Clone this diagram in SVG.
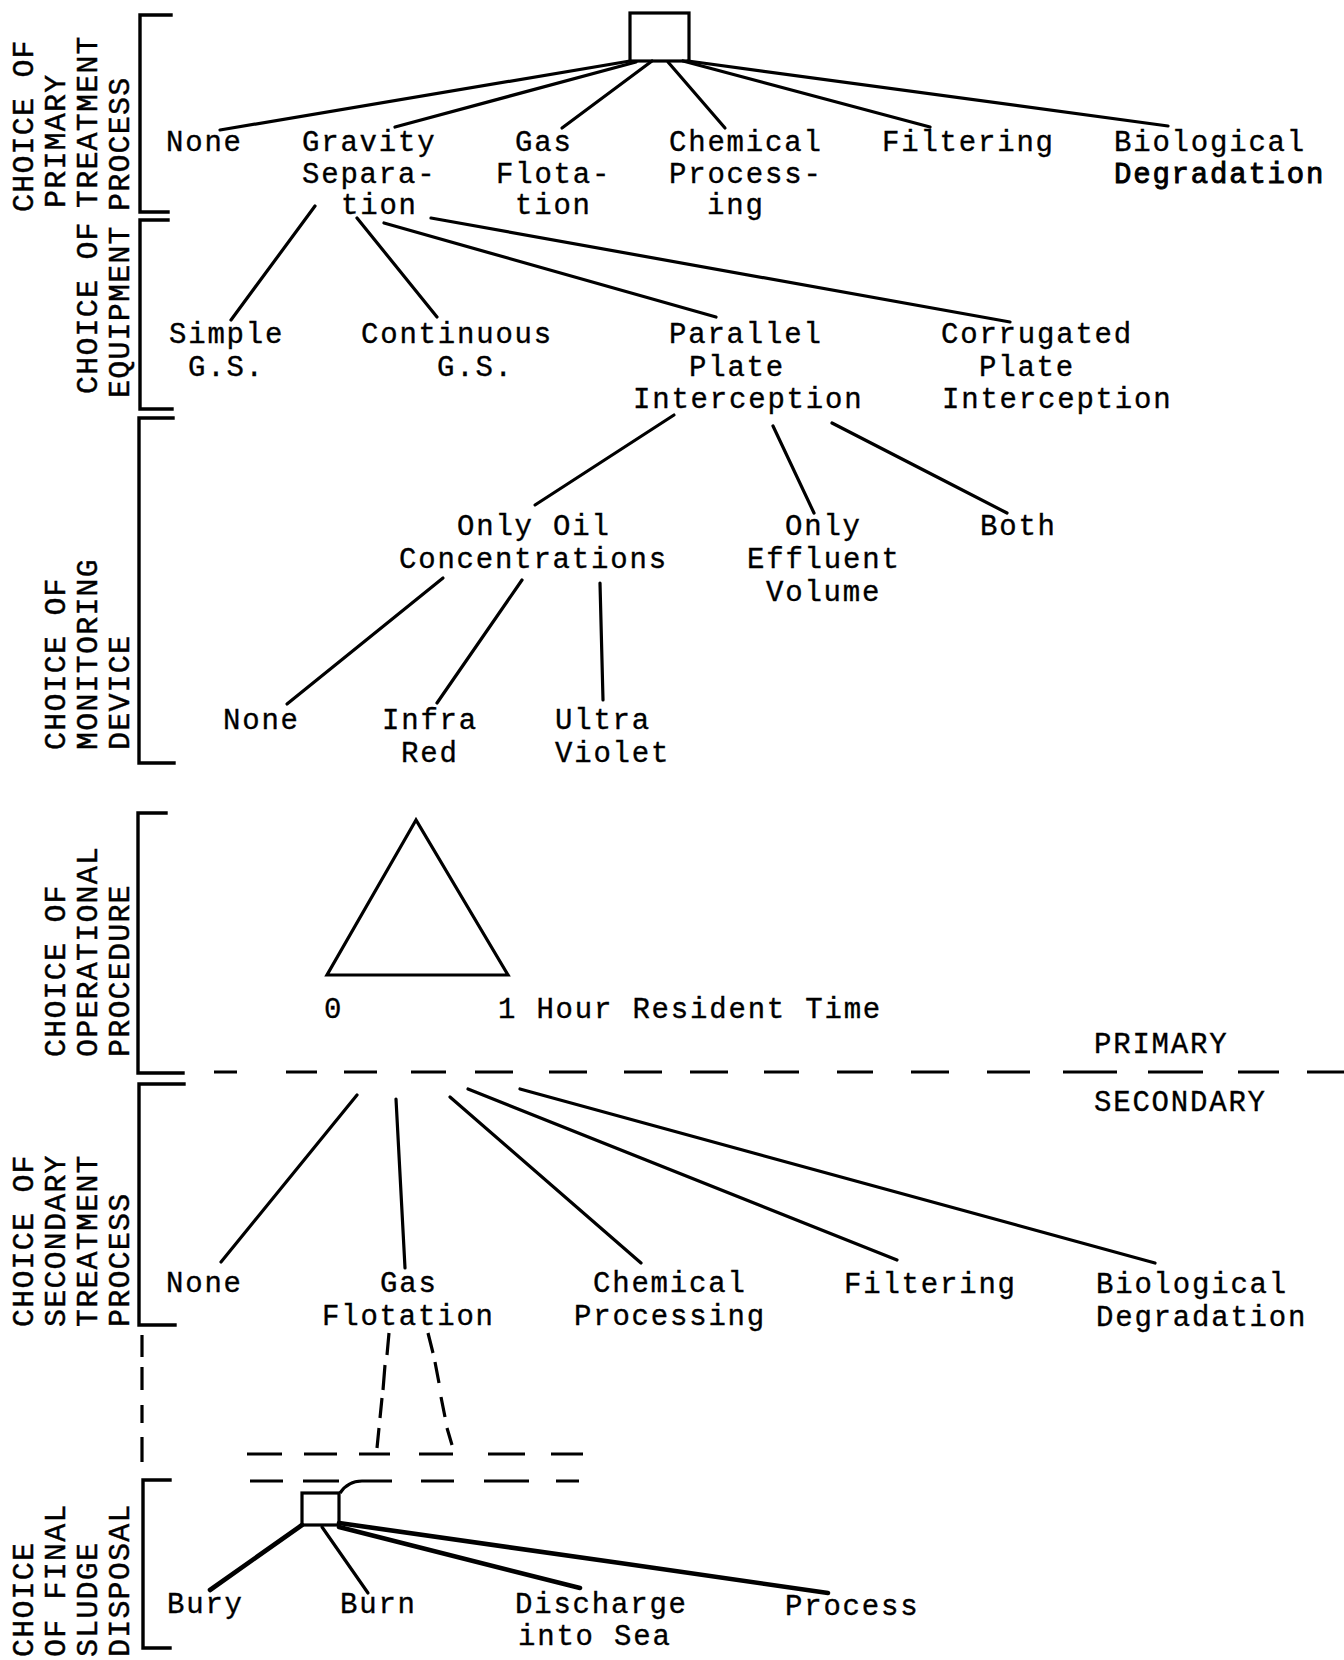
<svg xmlns="http://www.w3.org/2000/svg" width="1344" height="1660" viewBox="0 0 1344 1660">
  <style>
    .bg { fill: #ffffff; }
    .t { font-family: "Liberation Mono", "DejaVu Sans Mono", monospace; font-size: 29px; letter-spacing: 1.8px; fill: #000; stroke: #000; stroke-width: 0.35px; }
    .heavy { stroke-width: 0.9px; }
    .side { font-family: "Liberation Mono", "DejaVu Sans Mono", monospace; font-size: 30px; letter-spacing: 1.2px; fill: #000; stroke: #000; stroke-width: 0.45px; }
    .ln { stroke: #000; stroke-width: 3.2; fill: none; stroke-linecap: round; stroke-linejoin: round; }
    .thick { stroke-width: 4.6; }
    .box { stroke: #000; stroke-width: 3.2; fill: none; }
    .br { stroke: #000; stroke-width: 3.4; fill: none; stroke-linecap: square; }
    .dash { stroke: #000; stroke-width: 3.2; fill: none; stroke-linecap: butt; }
  </style>

  <rect class="bg" x="0" y="0" width="1344" height="1660"/>

  <!-- stage brackets with their rotated titles -->
  <g id="stage-primary">
    <path class="br" d="M171 15 H140 V212 H168"/>
    <text class="side" transform="translate(33,212) rotate(-90)">CHOICE OF</text>
    <text class="side" transform="translate(65,208) rotate(-90)">PRIMARY</text>
    <text class="side" transform="translate(97,208) rotate(-90)">TREATMENT</text>
    <text class="side" transform="translate(129,211) rotate(-90)">PROCESS</text>
  </g>
  <g id="stage-equipment">
    <path class="br" d="M168 220 H140 V409 H172"/>
    <text class="side" transform="translate(97,394) rotate(-90)">CHOICE OF</text>
    <text class="side" transform="translate(129,398) rotate(-90)">EQUIPMENT</text>
  </g>
  <g id="stage-monitoring">
    <path class="br" d="M173 418 H139 V763 H174"/>
    <text class="side" transform="translate(65,750) rotate(-90)">CHOICE OF</text>
    <text class="side" transform="translate(97,750) rotate(-90)">MONITORING</text>
    <text class="side" transform="translate(129,750) rotate(-90)">DEVICE</text>
  </g>
  <g id="stage-operational">
    <path class="br" d="M166 813 H138 V1073 H183"/>
    <text class="side" transform="translate(65,1057) rotate(-90)">CHOICE OF</text>
    <text class="side" transform="translate(97,1057) rotate(-90)">OPERATIONAL</text>
    <text class="side" transform="translate(129,1057) rotate(-90)">PROCEDURE</text>
  </g>
  <g id="stage-secondary">
    <path class="br" d="M184 1084 H139 V1325 H175"/>
    <text class="side" transform="translate(33,1327) rotate(-90)">CHOICE OF</text>
    <text class="side" transform="translate(65,1327) rotate(-90)">SECONDARY</text>
    <text class="side" transform="translate(97,1327) rotate(-90)">TREATMENT</text>
    <text class="side" transform="translate(129,1327) rotate(-90)">PROCESS</text>
  </g>
  <g id="stage-link">
    <path class="dash" d="M142 1335 V1357 M142 1367 V1390 M142 1405 V1423 M142 1437 V1462"/>
  </g>
  <g id="stage-disposal">
    <path class="br" d="M170 1480 H143 V1648 H170"/>
    <text class="side" transform="translate(33,1657) rotate(-90)">CHOICE</text>
    <text class="side" transform="translate(65,1657) rotate(-90)">OF FINAL</text>
    <text class="side" transform="translate(97,1657) rotate(-90)">SLUDGE</text>
    <text class="side" transform="translate(129,1657) rotate(-90)">DISPOSAL</text>
  </g>

  <!-- connectors -->
  <g id="connectors">
    <!-- primary treatment fan -->
    <path class="ln" d="M630 61 L220 130"/>
    <path class="ln" d="M636 62 L395 127"/>
    <path class="ln" d="M652 61 L562 128"/>
    <path class="ln" d="M668 62 L725 128"/>
    <path class="ln" d="M683 61 L930 127"/>
    <path class="ln" d="M688 61 L1168 126"/>
    <!-- equipment fan -->
    <path class="ln" d="M315 206 L231 320"/>
    <path class="ln" d="M357 218 L437 317"/>
    <path class="ln" d="M384 223 L716 317"/>
    <path class="ln" d="M431 218 L1010 322"/>
    <!-- monitoring fan -->
    <path class="ln" d="M674 415 L535 505"/>
    <path class="ln" d="M773 426 L814 513"/>
    <path class="ln" d="M832 423 L939 478 L1007 513"/>
    <!-- device fan -->
    <path class="ln" d="M443 578 L287 704"/>
    <path class="ln" d="M522 580 L437 703"/>
    <path class="ln" d="M600 583 L603 700"/>
    <!-- primary / secondary boundary -->
    <path class="dash" d="M214 1072 H237 M286 1072 H317 M344 1072 H377 M411 1072 H446 M475 1072 H513 M549 1072 H587 M624 1072 H662 M690 1072 H728 M764 1072 H799 M837 1072 H873 M911 1072 H949 M987 1072 H1030 M1063 1072 H1117 M1148 1072 H1203 M1238 1072 H1279 M1307 1072 H1344"/>
    <!-- secondary treatment fan -->
    <path class="ln" d="M357 1095 L221 1262"/>
    <path class="ln" d="M396 1099 L405 1268"/>
    <path class="ln" d="M450 1097 L641 1263"/>
    <path class="ln" d="M468 1089 L897 1260"/>
    <path class="ln" d="M520 1089 L1155 1263"/>
    <!-- dashed lead from gas flotation to sludge disposal -->
    <path class="dash" d="M389 1333 L387 1355 M385 1365 L383 1390 M382 1398 L380 1418 M379 1428 L377 1448"/>
    <path class="dash" d="M428 1333 L433 1353 M435 1362 L439 1383 M441 1397 L445 1417 M447 1428 L452 1445"/>
    <path class="dash" d="M247 1454 H282 M304 1454 H337 M359 1454 H390 M419 1454 H453 M488 1454 H525 M551 1454 H583"/>
    <path class="dash" d="M250 1481 H283 M303 1481 H339 M340 1493 Q348 1481 362 1481 H392 M421 1481 H454 M484 1481 H529 M556 1481 H579"/>
    <!-- sludge disposal fan -->
    <path class="ln thick" d="M302 1525 L210 1590"/>
    <path class="ln" d="M322 1527 L368 1593"/>
    <path class="ln thick" d="M339 1527 L580 1588"/>
    <path class="ln thick" d="M339 1523 L620 1563 L828 1593"/>
  </g>

  <!-- decision and chance nodes -->
  <g id="node-primary-decision">
    <rect class="box" x="630" y="13" width="59" height="48"/>
  </g>
  <g id="node-disposal-decision">
    <rect class="box" x="302" y="1493" width="37" height="32"/>
  </g>
  <g id="node-residence-time">
    <path class="box" d="M416 820 L327 975 L508 975 Z" stroke-width="3.6"/>
    <text class="t" x="324" y="1018">0</text>
    <text class="t" x="498" y="1018">1 Hour Resident Time</text>
  </g>

  <!-- primary treatment options -->
  <g id="opt-primary-none"><text class="t" x="166" y="151">None</text></g>
  <g id="opt-primary-gravity">
    <text class="t" x="302" y="151">Gravity</text>
    <text class="t" x="302" y="183">Separa-</text>
    <text class="t" x="341" y="214">tion</text>
  </g>
  <g id="opt-primary-gas">
    <text class="t" x="515" y="151">Gas</text>
    <text class="t" x="496" y="183">Flota-</text>
    <text class="t" x="515" y="214">tion</text>
  </g>
  <g id="opt-primary-chemical">
    <text class="t" x="669" y="151">Chemical</text>
    <text class="t" x="669" y="183">Process-</text>
    <text class="t" x="707" y="214">ing</text>
  </g>
  <g id="opt-primary-filtering"><text class="t" x="882" y="151">Filtering</text></g>
  <g id="opt-primary-biological">
    <text class="t" x="1114" y="151">Biological</text>
    <text class="t heavy" x="1114" y="183">Degradation</text>
  </g>

  <!-- equipment options -->
  <g id="opt-simple">
    <text class="t" x="169" y="343">Simple</text>
    <text class="t" x="188" y="376">G.S.</text>
  </g>
  <g id="opt-continuous">
    <text class="t" x="361" y="343">Continuous</text>
    <text class="t" x="437" y="376">G.S.</text>
  </g>
  <g id="opt-parallel">
    <text class="t" x="669" y="343">Parallel</text>
    <text class="t" x="689" y="376">Plate</text>
    <text class="t" x="633" y="408">Interception</text>
  </g>
  <g id="opt-corrugated">
    <text class="t" x="941" y="343">Corrugated</text>
    <text class="t" x="979" y="376">Plate</text>
    <text class="t" x="942" y="408">Interception</text>
  </g>

  <!-- monitoring options -->
  <g id="opt-oil">
    <text class="t" x="457" y="535">Only Oil</text>
    <text class="t" x="399" y="568">Concentrations</text>
  </g>
  <g id="opt-effluent">
    <text class="t" x="785" y="535">Only</text>
    <text class="t" x="747" y="568">Effluent</text>
    <text class="t" x="766" y="601">Volume</text>
  </g>
  <g id="opt-both"><text class="t" x="980" y="535">Both</text></g>

  <!-- device options -->
  <g id="opt-device-none"><text class="t" x="223" y="729">None</text></g>
  <g id="opt-infrared">
    <text class="t" x="382" y="729">Infra</text>
    <text class="t" x="401" y="762">Red</text>
  </g>
  <g id="opt-ultraviolet">
    <text class="t" x="555" y="729">Ultra</text>
    <text class="t" x="555" y="762">Violet</text>
  </g>

  <!-- boundary labels -->
  <g id="label-primary"><text class="t" x="1094" y="1053">PRIMARY</text></g>
  <g id="label-secondary"><text class="t" x="1094" y="1111">SECONDARY</text></g>

  <!-- secondary treatment options -->
  <g id="opt-secondary-none"><text class="t" x="166" y="1292">None</text></g>
  <g id="opt-secondary-gas">
    <text class="t" x="380" y="1292">Gas</text>
    <text class="t" x="322" y="1325">Flotation</text>
  </g>
  <g id="opt-secondary-chemical">
    <text class="t" x="593" y="1292">Chemical</text>
    <text class="t" x="574" y="1325">Processing</text>
  </g>
  <g id="opt-secondary-filtering"><text class="t" x="844" y="1293">Filtering</text></g>
  <g id="opt-secondary-biological">
    <text class="t" x="1096" y="1293">Biological</text>
    <text class="t" x="1096" y="1326">Degradation</text>
  </g>

  <!-- sludge disposal options -->
  <g id="opt-bury"><text class="t" x="167" y="1613">Bury</text></g>
  <g id="opt-burn"><text class="t" x="340" y="1613">Burn</text></g>
  <g id="opt-discharge">
    <text class="t" x="515" y="1613">Discharge</text>
    <text class="t" x="518" y="1645">into Sea</text>
  </g>
  <g id="opt-process"><text class="t" x="785" y="1615">Process</text></g>
</svg>
